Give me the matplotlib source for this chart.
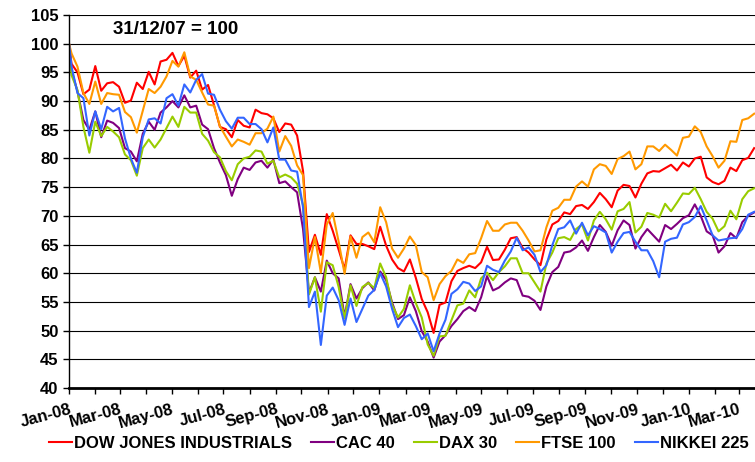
import pandas as pd
import matplotlib
matplotlib.use("Agg")
import matplotlib.pyplot as plt
import matplotlib.dates as mdates

plt.rcParams['font.family'] = ['Liberation Sans', 'DejaVu Sans']
plt.rcParams['font.weight'] = 'bold'

# base date, then weekly (Friday) readings
dates = [pd.Timestamp('2008-01-01')] + list(pd.date_range('2008-01-04', '2010-03-19', freq='W-FRI'))

dow = [100,
       # 2008
       96.5, 95.0, 91.2, 92.0, 96.1, 91.8, 93.1, 93.3, 92.5, 89.7, 90.1, 93.2, 92.1,
       95.1, 92.9, 96.9, 97.2, 98.4, 96.1, 97.9, 94.1, 95.3, 92.0, 92.8, 89.3, 85.5,
       85.1, 83.7, 86.7, 85.7, 85.4, 88.5, 87.9, 87.7, 87.0, 84.6, 86.1, 85.9, 84.0,
       77.8, 63.7, 66.7, 63.2, 70.3, 67.4, 64.1, 60.7, 66.6, 65.1, 65.1, 64.7, 64.2,
       # 2009
       68.1, 64.8, 62.4, 60.9, 60.3, 62.4, 59.2, 55.5, 53.2, 49.6, 54.5, 54.9, 58.6,
       60.4, 60.9, 61.3, 60.9, 61.9, 64.6, 62.3, 62.4, 64.1, 66.1, 66.3, 64.4, 63.6,
       62.4, 61.4, 65.9, 68.5, 69.1, 70.6, 70.3, 71.7, 71.9, 71.2, 72.4, 74.0, 72.9,
       71.5, 74.4, 75.4, 75.2, 73.2, 75.6, 77.4, 77.8, 77.7, 78.3, 78.9, 77.9, 79.3,
       # 2010
       78.6, 80.0, 80.3, 76.7, 75.9, 75.5, 76.1, 78.4, 77.8, 79.7, 80.1, 81.8]

cac = [100,
       95.3, 91.7, 86.7, 85.0, 88.2, 83.7, 86.6, 86.2, 85.3, 81.8, 81.2, 79.5, 84.3,
       86.4, 85.0, 88.0, 88.9, 90.0, 88.9, 91.0, 88.9, 89.2, 85.9, 85.1, 81.8, 79.3,
       77.1, 73.5, 76.4, 78.4, 78.0, 79.3, 79.6, 78.4, 79.8, 75.7, 76.0, 75.0, 74.1,
       67.7, 56.6, 59.3, 56.8, 62.2, 60.0, 59.1, 52.4, 58.1, 55.6, 57.4, 58.4, 57.0,
       60.3, 58.8, 54.9, 52.0, 52.7, 55.8, 53.4, 49.9, 48.1, 45.3, 48.1, 49.2, 50.8,
       52.0, 53.4, 54.1, 53.4, 55.8, 59.5, 57.0, 57.5, 58.4, 59.1, 58.8, 56.1, 55.9,
       55.2, 53.6, 57.7, 60.2, 61.1, 63.6, 63.8, 64.5, 65.7, 63.9, 66.3, 68.4, 67.2,
       64.8, 67.5, 69.2, 68.4, 64.3, 66.3, 67.7, 66.6, 65.5, 68.4, 67.7, 68.6, 69.6,
       70.1, 72.0, 70.0, 67.3, 66.6, 63.6, 64.7, 67.0, 66.1, 68.9, 70.0, 70.6]

dax = [100,
       94.5, 91.9, 85.5, 81.0, 86.4, 83.9, 85.5, 84.7, 83.7, 80.7, 79.7, 77.0, 81.8,
       83.3, 81.9, 83.3, 85.3, 87.3, 85.5, 89.0, 88.0, 88.0, 84.3, 83.1, 81.1, 80.2,
       77.8, 76.2, 79.0, 80.0, 80.3, 81.4, 81.2, 79.1, 79.6, 76.7, 77.2, 76.7, 75.6,
       71.9, 56.3, 59.3, 53.3, 61.9, 61.4, 57.6, 52.1, 57.9, 54.3, 57.6, 58.3, 57.4,
       61.7, 59.3, 54.5, 52.3, 53.8, 57.9, 54.8, 52.3, 47.6, 45.6, 49.0, 49.1, 51.8,
       54.4, 54.7, 57.0, 55.8, 59.1, 60.1, 58.8, 60.2, 61.2, 62.6, 62.6, 60.0, 60.0,
       58.4, 56.8, 61.7, 63.6, 66.1, 66.3, 65.8, 67.7, 68.5, 65.7, 69.2, 70.7, 69.4,
       67.6, 70.8, 71.2, 72.4, 67.1, 68.1, 70.5, 70.2, 69.7, 72.1, 70.8, 72.3, 73.9,
       73.8, 74.9, 72.9, 70.7, 69.5, 67.3, 68.2, 70.9, 69.4, 72.9, 74.3, 74.8]

ftse = [100,
        98.3, 96.0, 91.4, 89.5, 93.4, 89.5, 91.4, 91.2, 91.1, 88.1, 87.2, 84.5, 88.3,
        92.1, 91.4, 92.5, 94.3, 97.0, 96.0, 98.5, 94.3, 93.7, 91.5, 89.4, 89.2, 85.6,
        83.8, 82.1, 83.3, 82.9, 82.4, 84.4, 84.4, 85.2, 87.3, 81.2, 83.9, 82.2, 78.8,
        77.1, 60.9, 66.3, 60.1, 68.5, 70.5, 65.5, 59.9, 66.4, 62.7, 66.3, 67.1, 65.4,
        71.5, 68.9, 64.3, 62.7, 64.3, 66.4, 64.9, 60.2, 59.3, 55.3, 58.1, 59.5, 60.4,
        62.4, 61.8, 63.3, 63.5, 66.1, 69.1, 67.4, 67.4, 68.5, 68.8, 68.8, 67.4, 65.7,
        63.8, 64.0, 68.0, 70.9, 71.4, 72.8, 72.8, 75.1, 76.0, 75.1, 78.1, 79.0, 78.7,
        77.3, 79.9, 80.4, 81.2, 78.1, 79.0, 82.1, 82.1, 81.3, 82.4, 81.5, 80.5, 83.6,
        83.8, 85.6, 84.6, 82.1, 80.4, 78.4, 79.6, 83.0, 82.9, 86.7, 87.0, 87.8]

nikkei = [100,
          96.0, 91.4, 90.5, 84.0, 88.2, 85.1, 89.0, 88.2, 88.8, 83.5, 80.0, 77.5, 83.7,
          86.8, 87.0, 86.1, 90.5, 91.2, 89.2, 92.9, 91.5, 93.7, 94.7, 91.3, 91.1, 88.5,
          86.5, 85.2, 87.1, 87.1, 86.0, 86.0, 85.1, 82.8, 85.4, 79.8, 79.8, 77.9, 77.7,
          71.5, 54.1, 56.8, 47.5, 56.1, 57.5, 55.3, 51.0, 55.6, 51.5, 53.8, 56.1, 57.1,
          60.0, 57.7, 53.8, 50.6, 52.2, 52.8, 50.8, 48.5, 49.5, 46.4, 49.5, 51.9, 56.4,
          57.2, 58.5, 58.2, 56.9, 57.7, 61.3, 60.6, 60.2, 62.2, 63.8, 66.2, 64.0, 64.5,
          63.2, 60.2, 61.4, 64.9, 67.7, 68.0, 69.2, 66.9, 68.8, 66.6, 68.2, 67.7, 67.1,
          63.6, 65.5, 67.0, 67.2, 65.5, 64.0, 64.0, 62.1, 59.3, 65.5, 66.0, 66.2, 68.5,
          68.9, 69.8, 71.7, 69.2, 66.6, 65.7, 65.9, 66.1, 66.2, 67.7, 70.2, 70.7]

names = ['DOW JONES INDUSTRIALS', 'CAC 40', 'DAX 30', 'FTSE 100', 'NIKKEI 225']
colors = ['#FF0000', '#800080', '#99CC00', '#FF9900', '#3366FF']
series = [dow, cac, dax, ftse, nikkei]

fig = plt.figure(figsize=(7.55, 4.62), dpi=100)
ax = fig.add_axes([69 / 755, 74 / 462, 686 / 755, 373 / 462])

for name, vals, col in zip(names, series, colors):
    ax.plot(dates, vals, color=col, lw=1.5, label=name)

ax.set_ylim(40, 105)
ax.set_yticks(range(40, 106, 5))
ax.set_xlim(pd.Timestamp('2008-01-01'), pd.Timestamp('2010-03-20'))
ax.xaxis.set_major_locator(mdates.MonthLocator(bymonth=[1, 3, 5, 7, 9, 11]))
ax.xaxis.set_minor_locator(mdates.MonthLocator())
ax.xaxis.set_major_formatter(mdates.DateFormatter('%b-%y'))

ax.yaxis.grid(True, color='black', lw=0.8)
ax.set_axisbelow(True)
for s in ['top', 'right']:
    ax.spines[s].set_visible(False)
ax.spines['bottom'].set_linewidth(2)
ax.spines['left'].set_linewidth(1)

ax.tick_params(axis='y', labelsize=12, length=4, width=1)
ax.tick_params(axis='x', which='both', length=4, width=1)
ax.tick_params(axis='x', which='major', labelsize=12, pad=6)
for lbl in ax.get_xticklabels():
    lbl.set_rotation(15)
    lbl.set_ha('right')
    lbl.set_va('top')
    lbl.set_rotation_mode('anchor')

ax.text(0.155, 0.96, '31/12/07 = 100', transform=ax.transAxes,
        ha='center', va='center', fontsize=13.5, fontweight='bold')

fig.legend(loc='center', bbox_to_anchor=(0.528, 0.04), ncol=5, frameon=False,
           handlelength=1.4, handletextpad=0.1, columnspacing=1.15,
           borderpad=0.2, borderaxespad=0.1,
           prop={'size': 12, 'weight': 'bold'})

fig.savefig('out.png', dpi=100)
